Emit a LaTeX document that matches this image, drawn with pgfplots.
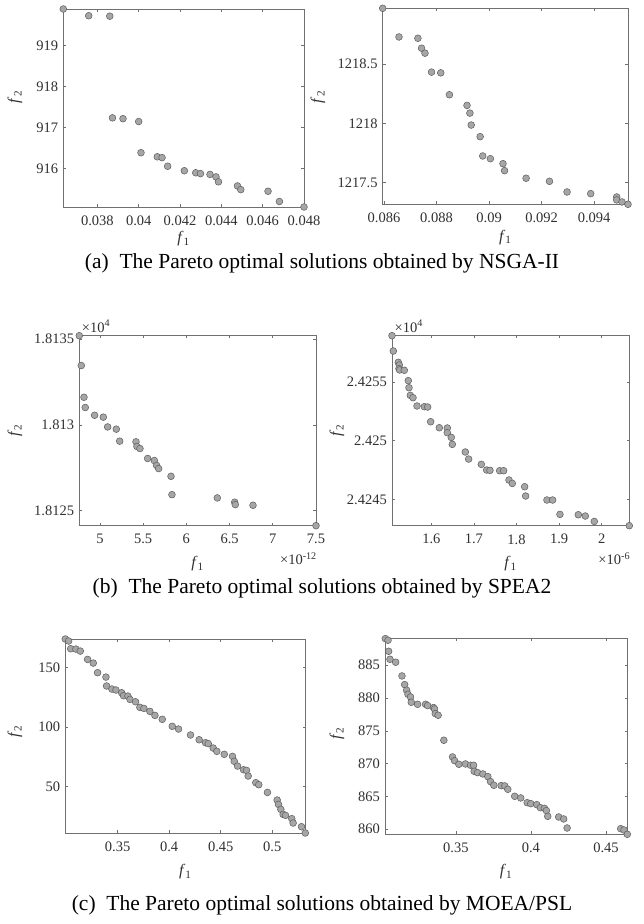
\documentclass[border=0pt]{standalone}
\usepackage{fontspec}
\setmainfont{Liberation Serif}
\usepackage{pgfplots}
\pgfplotsset{compat=1.18}
\definecolor{mfill}{HTML}{A6A6A6}
\definecolor{medge}{HTML}{5C5C5C}
\definecolor{axgray}{HTML}{707070}
\definecolor{txtgray}{HTML}{303030}
\newcommand{\tickfont}{\fontsize{14.5}{16}\selectfont}
\newcommand{\labfont}{\fontsize{16}{18}\selectfont}
\newcommand{\capfont}{\fontsize{21.5}{24}\selectfont}
\pgfplotsset{
  base/.style={
    scale only axis, anchor=south west, clip=false,
    axis line style={draw=axgray, line width=0.6pt},
    tick style={draw=axgray, line width=0.6pt},
    major tick length=2.8pt, tick align=inside,
    xticklabel style={font=\tickfont, text=txtgray, inner sep=0pt, anchor=north, yshift=-8.5pt},
    yticklabel style={font=\tickfont, text=txtgray, inner sep=0pt, anchor=east, xshift=-5pt},
    xlabel={\textit{f}\textsubscript{1}}, ylabel={\textit{f}\textsubscript{2}},
    label style={font=\labfont, text=txtgray},
    scaled ticks=false,
  },
  pt/.style={only marks, mark=*, mark size=3.4pt, mark options={fill=mfill, draw=medge, line width=0.5pt}},
}
\begin{document}
\begin{tikzpicture}
\useasboundingbox (0pt,0pt) rectangle (644pt,924pt);
% ---------------- (a) NSGA-II ----------------
\begin{axis}[base, at={(63.3pt,717pt)}, width=240.7pt, height=198pt,
  xmin=0.03635, xmax=0.048, ymin=915.066, ymax=919.895,
  xtick={0.038,0.040,0.042,0.044,0.046,0.048}, xticklabels={0.038,0.04,0.042,0.044,0.046,0.048},
  ytick={916,917,918,919}, yticklabels={916,917,918,919},
  xlabel style={at={(axis description cs:0.5,-0.1616)}, anchor=center},
  ylabel style={at={(axis description cs:-0.2007,0.556)}, anchor=center}]
\addplot[pt] coordinates {
(0.03635,919.895) (0.03758,919.73) (0.03860,919.72) (0.03873,917.24) (0.03924,917.22)
(0.04000,917.15) (0.04011,916.39) (0.04090,916.29) (0.04113,916.27) (0.04140,916.06)
(0.04221,915.95) (0.04276,915.90) (0.04299,915.88) (0.04345,915.86) (0.04374,915.80)
(0.04386,915.68) (0.04478,915.58) (0.04494,915.49) (0.04626,915.45) (0.04681,915.20)
(0.04800,915.066)};
\end{axis}
% y values below are f2 - 1217
\begin{axis}[base, at={(382.7pt,719.7pt)}, width=245.3pt, height=196pt,
  xmin=0.08595, xmax=0.09529, ymin=0.317, ymax=1.972,
  xtick={0.086,0.088,0.090,0.092,0.094}, xticklabels={0.086,0.088,0.09,0.092,0.094},
  ytick={0.5,1,1.5}, yticklabels={1217.5,1218,1218.5},
  xlabel style={at={(axis description cs:0.5,-0.168)}, anchor=center},
  ylabel style={at={(axis description cs:-0.2638,0.547)}, anchor=center}]
\addplot[pt] coordinates {
(0.08595,1.972) (0.08657,1.730) (0.08729,1.719) (0.08743,1.635) (0.08756,1.593)
(0.08781,1.433) (0.08816,1.427) (0.08849,1.242) (0.08916,1.152) (0.08927,1.087)
(0.08932,0.986) (0.08966,0.888) (0.08976,0.725) (0.09005,0.702) (0.09053,0.660)
(0.09059,0.601) (0.09141,0.537) (0.09230,0.511) (0.09297,0.421) (0.09387,0.407)
(0.09486,0.379) (0.09486,0.354) (0.09506,0.337) (0.09529,0.317)};
\end{axis}
\node[font=\capfont] at (322pt,661pt) {(a)\enspace The Pareto optimal solutions obtained by NSGA-II};
% ---------------- (b) SPEA2 ----------------
% x in units of 1e-12, y = f2 - 18120
\begin{axis}[base, at={(79.3pt,398.3pt)}, width=236.7pt, height=190pt,
  xmin=4.761, xmax=7.5, ymin=4.12, ymax=15.2,
  xtick={5,5.5,6,6.5,7,7.5}, xticklabels={5,5.5,6,6.5,7,7.5},
  ytick={5,10,15}, yticklabels={1.8125,1.813,1.8135},
  xlabel style={at={(axis description cs:0.5,-0.2)}, anchor=center},
  ylabel style={at={(axis description cs:-0.2717,0.5)}, anchor=center}]
\addplot[pt] coordinates {
(4.761,15.2) (4.784,13.46) (4.815,11.61) (4.830,11.01) (4.938,10.56) (5.039,10.45)
(5.089,9.88) (5.189,9.75) (5.228,9.05) (5.417,9.01) (5.428,8.74) (5.463,8.62)
(5.552,8.04) (5.629,7.92) (5.656,7.63) (5.679,7.45) (5.822,7.00) (5.833,5.93)
(6.358,5.74) (6.559,5.49) (6.566,5.35) (6.771,5.31) (7.5,4.12)};
\node[anchor=base west, font=\tickfont, text=txtgray, inner sep=0pt, xshift=2.4pt, yshift=3.6pt] at (rel axis cs:0,1) {×10\textsuperscript{4}};
\node[anchor=base east, font=\tickfont, text=txtgray, inner sep=0pt, xshift=1pt, yshift=-39.3pt] at (rel axis cs:1,0) {×10\textsuperscript{-12}};
\end{axis}
% x in units of 1e-6, y = f2 - 24240
\begin{axis}[base, at={(392pt,398.3pt)}, width=237.3pt, height=190pt,
  xmin=1.5077, xmax=2.0648, ymin=2.78, ymax=18.92,
  xtick={1.6,1.7,1.8,1.9,2.0}, xticklabels={1.6,1.7,1.8,1.9,2},
  ytick={5,10,15}, yticklabels={2.4245,2.425,2.4255},
  xlabel style={at={(axis description cs:0.5,-0.2)}, anchor=center},
  ylabel style={at={(axis description cs:-0.2318,0.5)}, anchor=center}]
\addplot[pt] coordinates {
(1.5077,18.92) (1.5108,17.62) (1.5225,16.66) (1.5249,16.43) (1.5241,16.12) (1.5257,16.01)
(1.5366,15.98) (1.5460,15.10) (1.5476,14.50) (1.5507,13.85) (1.5570,13.65) (1.5664,12.95)
(1.5836,12.89) (1.5914,12.86) (1.5984,11.61) (1.6188,11.10) (1.6376,11.08) (1.6376,10.68)
(1.6469,10.28) (1.6493,9.69) (1.6798,9.04) (1.6876,8.44) (1.7174,7.99) (1.7299,7.51)
(1.7377,7.48) (1.7604,7.45) (1.7698,7.45) (1.7823,6.66) (1.7901,6.37) (1.8191,6.09)
(1.8214,5.30) (1.8715,4.96) (1.8848,4.96) (1.9020,3.74) (1.9451,3.71) (1.9615,3.60)
(1.9826,3.14) (2.0648,2.78)};
\node[anchor=base west, font=\tickfont, text=txtgray, inner sep=0pt, xshift=2.4pt, yshift=3.6pt] at (rel axis cs:0,1) {×10\textsuperscript{4}};
\node[anchor=base east, font=\tickfont, text=txtgray, inner sep=0pt, xshift=1pt, yshift=-39.3pt] at (rel axis cs:1,0) {×10\textsuperscript{-6}};
\end{axis}
\node[font=\capfont] at (322pt,336pt) {(b)\enspace The Pareto optimal solutions obtained by SPEA2};
% ---------------- (c) MOEA/PSL ----------------
\begin{axis}[base, at={(65.3pt,91pt)}, width=240pt, height=194pt,
  xmin=0.2993, xmax=0.532, ymin=10.7, ymax=174.2,
  xtick={0.35,0.4,0.45,0.5}, xticklabels={0.35,0.4,0.45,0.5},
  ytick={50,100,150}, yticklabels={50,100,150},
  xlabel style={at={(axis description cs:0.5,-0.1995)}, anchor=center},
  ylabel style={at={(axis description cs:-0.2096,0.522)}, anchor=center}]
\addplot[pt] coordinates {
(0.2993,174.2) (0.3025,172.5) (0.3045,166.0) (0.3096,165.7) (0.3138,164.0) (0.3209,157.0)
(0.3264,153.9) (0.3306,145.8) (0.3387,142.1) (0.3393,134.6) (0.3445,132.0) (0.3484,131.2)
(0.3539,128.9) (0.3558,126.4) (0.3600,126.1) (0.3620,123.3) (0.3674,121.3) (0.3716,116.6)
(0.3755,115.7) (0.3813,113.2) (0.3862,109.8) (0.3933,106.5) (0.4030,100.6) (0.4091,98.3)
(0.4207,93.3) (0.4291,89.3) (0.4353,86.8) (0.4379,86.0) (0.4427,82.3) (0.4462,79.5)
(0.4534,77.0) (0.4614,75.3) (0.4631,71.1) (0.4663,67.1) (0.4721,64.0) (0.4750,63.5)
(0.4766,58.7) (0.4840,53.1) (0.4869,51.4) (0.4953,44.9) (0.5047,38.5) (0.5060,34.8)
(0.5083,30.6) (0.5105,26.4) (0.5128,25.6) (0.5189,22.8) (0.5202,19.1) (0.5283,16.0)
(0.5320,10.7)};
\end{axis}
\begin{axis}[base, at={(385pt,89.7pt)}, width=242.3pt, height=195.7pt,
  xmin=0.3028, xmax=0.4642, ymin=859.23, ymax=889.05,
  xtick={0.35,0.4,0.45}, xticklabels={0.35,0.4,0.45},
  ytick={860,865,870,875,880,885}, yticklabels={860,865,870,875,880,885},
  xlabel style={at={(axis description cs:0.5,-0.191)}, anchor=center},
  ylabel style={at={(axis description cs:-0.198,0.516)}, anchor=center}]
\addplot[pt] coordinates {
(0.3030,889.05) (0.3048,888.80) (0.3052,887.12) (0.3061,885.90) (0.3099,885.45) (0.3141,883.36)
(0.3159,882.04) (0.3172,881.18) (0.3181,880.57) (0.3198,880.16) (0.3203,879.35) (0.3245,879.04)
(0.3298,879.04) (0.3312,878.84) (0.3351,878.54) (0.3358,878.33) (0.3363,877.62) (0.3382,877.37)
(0.3420,873.56) (0.3478,871.02) (0.3491,870.46) (0.3520,869.90) (0.3564,869.95) (0.3598,869.75)
(0.3618,869.75) (0.3622,868.83) (0.3644,868.63) (0.3680,868.43) (0.3713,868.02) (0.3731,867.26)
(0.3753,866.70) (0.3802,866.65) (0.3826,866.60) (0.3846,866.09) (0.3892,865.02) (0.3932,864.77)
(0.3975,864.05) (0.3999,863.90) (0.4039,863.75) (0.4063,863.29) (0.4090,863.19) (0.4103,862.84)
(0.4112,861.97) (0.4185,861.87) (0.4218,861.57) (0.4241,860.19) (0.4598,860.09) (0.4620,859.89)
(0.4642,859.23)};
\end{axis}
\node[font=\capfont] at (322pt,19pt) {(c)\enspace The Pareto optimal solutions obtained by MOEA/PSL};
\end{tikzpicture}
\end{document}
